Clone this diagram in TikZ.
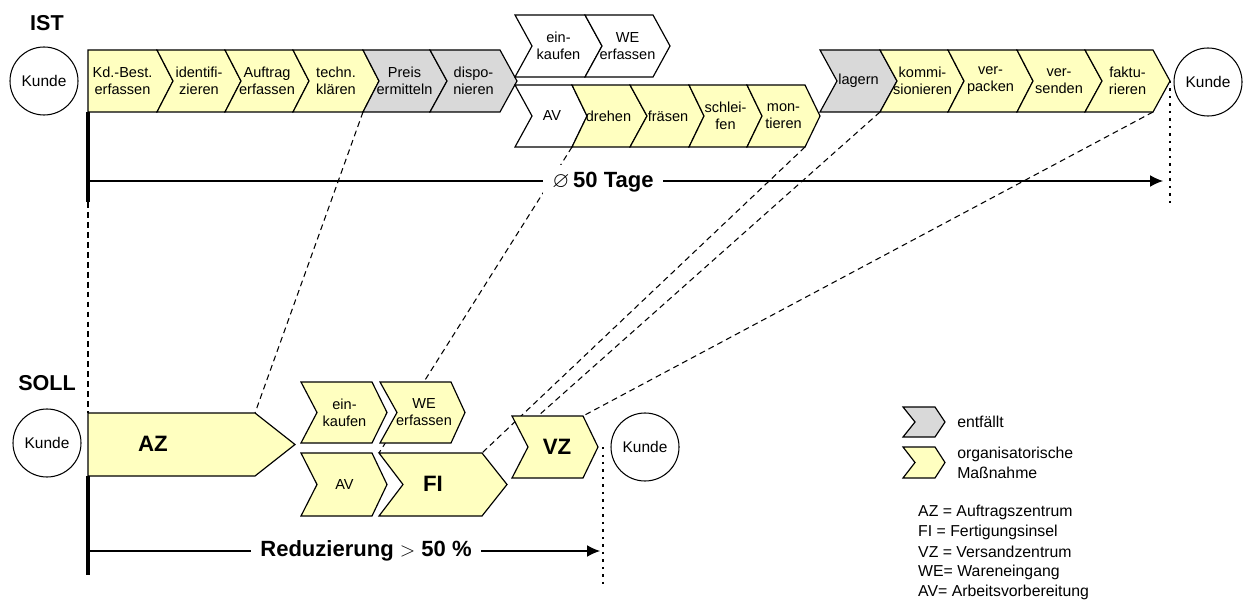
\documentclass[tikz,border=0pt]{standalone}
\usepackage{fontspec}
\setmainfont{Liberation Sans}
\usepackage{amssymb}
\usetikzlibrary{arrows.meta,backgrounds}
\definecolor{ist_yellow}{RGB}{255, 255, 192}
\definecolor{ist_grey}{RGB}{217, 217, 217}
\tikzstyle{kunde}=[circle,draw=black,line width=0.9pt,minimum size=2.04cm,
  inner sep=0pt,font=\fontsize{13.2}{15}\selectfont]
\tikzstyle{chv}=[draw=black,line width=1pt,line join=miter]
\tikzstyle{chvtext}=[align=center,inner sep=0pt,font=\fontsize{12.4}{14.6}\selectfont]
\tikzstyle{titel}=[inner sep=0pt,font=\bfseries\fontsize{18.4}{22}\selectfont]
\tikzstyle{kurz}=[inner sep=0pt,font=\bfseries\fontsize{19}{22}\selectfont]
\tikzstyle{zeit}=[fill=white,inner xsep=8pt,inner ysep=6pt,
  font=\bfseries\fontsize{18.8}{22}\selectfont]
\tikzstyle{legtext}=[anchor=west,inner sep=0pt,font=\fontsize{13.5}{17}\selectfont,align=left]
\tikzstyle{dashline}=[line width=0.9pt,dash pattern=on 5pt off 3.5pt]
\tikzstyle{dotline}=[line width=1.8pt,dash pattern=on 1.8pt off 4.6pt]
\tikzstyle{balken}=[line width=3pt]
\tikzstyle{zeitpfeil}=[line width=1pt,-{Latex[length=11pt,width=10pt]}]
% chevron: name, fill, left, body right, top, bottom, notch, tip, text
\newcommand{\chv}[9]{%
  \pgfmathsetmacro{\chvmid}{(#5+#6)/2}
  \pgfmathsetmacro{\chvtip}{#4+#8}
  \pgfmathsetmacro{\chvnotch}{#3+#7}
  \pgfmathsetmacro{\chvtx}{(#3+#7+#4)/2}
  \draw [chv,fill=#2] (#3,#5) -- (#4,#5) -- (\chvtip,\chvmid) -- (#4,#6)
    -- (#3,#6) -- (\chvnotch,\chvmid) -- cycle;
  \coordinate (#1-tl) at (#3,#5);
  \coordinate (#1-tr) at (#4,#5);
  \coordinate (#1-bl) at (#3,#6);
  \coordinate (#1-br) at (#4,#6);
  \coordinate (#1-tip) at (\chvtip,\chvmid);
  \node [chvtext] (#1) at (\chvtx,\chvmid) {#9};
}

\begin{document}
\begin{tikzpicture}[x=0.03cm,y=-0.03cm]
    \useasboundingbox (0,0) rectangle (1244,600);
    % IST
    \node [style=titel] (ist) at (47,23) {IST};
    \node [style=kunde] (kl) at (44,81) {Kunde};
    \chv{kd}{ist_yellow}{88}{157}{50}{112}{0}{16}{Kd.-Best.\\erfassen}
    \chv{ident}{ist_yellow}{157}{225}{50}{112}{16}{16}{identifi-\\zieren}
    \chv{auftr}{ist_yellow}{225}{293}{50}{112}{16}{16}{Auftrag\\erfassen}
    \chv{techn}{ist_yellow}{293}{363}{50}{112}{16}{16}{techn.\\klären}
    \chv{preis}{ist_grey}{363}{430}{50}{112}{16}{17}{Preis\\ermitteln}
    \chv{dispo}{ist_grey}{430}{500}{50}{112}{17}{17}{dispo-\\nieren}
    \chv{eink}{white}{515}{585}{15}{77}{17}{17}{ein-\\kaufen}
    \chv{we}{white}{585}{653}{15}{77}{17}{17}{WE\\erfassen}
    \chv{av}{white}{515}{572}{85}{147}{17}{15}{AV}
    \chv{dreh}{ist_yellow}{572}{630}{85}{147}{15}{17}{drehen}
    \chv{fraes}{ist_yellow}{630}{689}{85}{147}{17}{15}{fräsen}
    \chv{schl}{ist_yellow}{689}{747}{85}{147}{15}{15}{schlei-\\fen}
    \chv{mont}{ist_yellow}{747}{805}{85}{147}{15}{15}{mon-\\tieren}
    \chv{lager}{ist_grey}{820}{880}{50}{112}{17}{17}{lagern}
    \chv{kommi}{ist_yellow}{880}{948}{50}{112}{17}{16}{kommi-\\sionieren}
    \chv{verp}{ist_yellow}{948}{1017}{50}{112}{16}{16}{ver-\\packen}
    \chv{vers}{ist_yellow}{1017}{1085}{50}{112}{16}{17}{ver-\\senden}
    \chv{fakt}{ist_yellow}{1085}{1153}{50}{112}{17}{17}{faktu-\\rieren}
    \node [style=kunde] (kr) at (1208,82) {Kunde};
    \coordinate (ist-a) at (88,181);
    \coordinate (ist-b) at (1163,181);
    \coordinate (ist-drop) at (88,202);
    \coordinate (ist-dot) at (1170,207);
    % SOLL
    \node [style=titel] (soll) at (47,383) {SOLL};
    \node [style=kunde] (sl) at (47,443) {Kunde};
    \chv{az}{ist_yellow}{88}{255}{413}{476}{0}{40}{}
    \chv{beink}{ist_yellow}{301}{372}{382}{443}{16}{15}{ein-\\kaufen}
    \chv{bwe}{ist_yellow}{380}{451}{382}{443}{17}{14}{WE\\erfassen}
    \chv{bav}{ist_yellow}{301}{372}{453}{516}{16}{15}{AV}
    \chv{fi}{ist_yellow}{379}{482}{453}{516}{24}{25}{}
    \chv{vz}{ist_yellow}{512}{583}{416}{478}{16}{15}{}
    \node [style=kurz] (azt) at (153,444) {AZ};
    \node [style=kurz] (fit) at (433,484) {FI};
    \node [style=kurz] (vzt) at (557,447) {VZ};
    \node [style=kunde] (sr) at (645,447) {Kunde};
    \coordinate (vz-t) at (538,416);
    \coordinate (soll-a) at (88,551);
    \coordinate (soll-b) at (600,551);
    \coordinate (soll-end) at (88,575);
    \coordinate (soll-dota) at (603,447);
    \coordinate (soll-dotb) at (603,587);
    % zuordnung IST -> SOLL
    \begin{pgfonlayer}{background}
        \draw [dashline] (ist-drop) to (az-tl);
        \draw [dashline] (techn-br) to (az-tr);
        \draw [dashline] (dreh-bl) to (fi-tl);
        \draw [dashline] (mont-br) to (fi-tr);
        \draw [dashline] (kommi-bl) to (vz-t);
        \draw [dashline] (fakt-br) to (vz-tr);
    \end{pgfonlayer}
    \draw [balken] (kd-bl) to (ist-drop);
    \draw [balken] (az-bl) to (soll-end);
    \draw [zeitpfeil] (ist-a) to (ist-b);
    \draw [zeitpfeil] (soll-a) to (soll-b);
    \draw [dotline] (fakt-tip) to (ist-dot);
    \draw [dotline] (soll-dota) to (soll-dotb);
    \node [style=zeit] (tage) at (603,182) {$\varnothing$\,50 Tage};
    \node [style=zeit] (reduz) at (366,551) {Reduzierung $>$ 50 \%};
    % legende
    \chv{leg1}{ist_grey}{903}{935}{407}{437}{12}{10}{}
    \chv{leg2}{ist_yellow}{903}{935}{447}{478}{12}{10}{}
    \node [style=legtext] (l1) at (957,422) {entfällt};
    \node [style=legtext] (l2) at (957,463) {organisatorische\\Maßnahme};
    \node [style=legtext] (laz) at (918,512) {AZ = Auftragszentrum};
    \node [style=legtext] (lfi) at (918,532) {FI = Fertigungsinsel};
    \node [style=legtext] (lvz) at (918,552) {VZ = Versandzentrum};
    \node [style=legtext] (lwe) at (918,572) {WE= Wareneingang};
    \node [style=legtext] (lav) at (918,592) {AV= Arbeitsvorbereitung};
\end{tikzpicture}
\end{document}
